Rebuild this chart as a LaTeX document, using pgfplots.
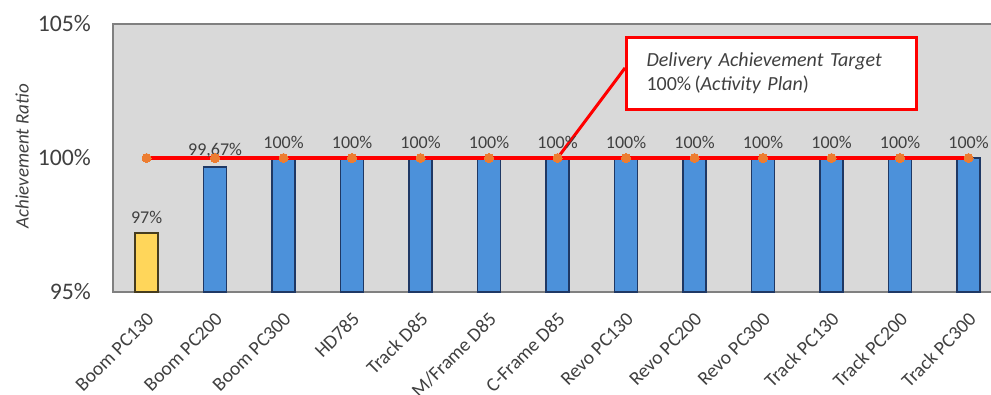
\documentclass[border=0pt]{standalone}
\usepackage{fontspec}
\setmainfont{Carlito}
\usepackage{pgfplots}
\pgfplotsset{compat=1.18}
\usepackage{pgfplotstable}
\definecolor{barblue}{RGB}{76,145,218}
\definecolor{baredge}{RGB}{31,56,100}
\definecolor{baryellow}{RGB}{255,214,90}
\definecolor{yedge}{RGB}{70,60,30}
\definecolor{bggray}{RGB}{217,217,217}
\definecolor{framegray}{RGB}{128,128,128}
\definecolor{txtgray}{RGB}{64,64,64}
\definecolor{mkorange}{RGB}{237,125,49}
\pgfplotstableread{
x y lab
1 99.67 99,67
2 100 100
3 100 100
4 100 100
5 100 100
6 100 100
7 100 100
8 100 100
9 100 100
10 100 100
11 100 100
12 100 100
}\bluebars
\pgfplotstableread{
x y lab
0 97.2 97
}\yellowbars
\pgfplotstableread{
x y
0 100
1 100
2 100
3 100
4 100
5 100
6 100
7 100
8 100
9 100
10 100
11 100
12 100
}\target
\begin{document}
\begin{tikzpicture}
\begin{axis}[
  at={(0,0)}, anchor=south west,
  scale only axis, width=880pt, height=268pt,
  xmin=-0.49, xmax=12.357, ymin=95, ymax=105,
  axis background/.style={fill=bggray},
  axis line style={draw=framegray, line width=2pt},
  major tick length=0pt,
  ytick={95,100,105}, yticklabels={95\%,100\%,105\%},
  yticklabel style={anchor=east, inner sep=0pt, xshift=-22pt, text=txtgray, font=\fontsize{23.7}{28}\selectfont},
  xtick={0,...,12},
  xticklabels={Boom PC130,Boom PC200,Boom PC300,HD785,Track D85,M/Frame D85,C-Frame D85,Revo PC130,Revo PC200,Revo PC300,Track PC130,Track PC200,Track PC300},
  xticklabel style={xshift=4pt, yshift=-24pt, rotate=45, anchor=east, inner sep=0pt, text=txtgray, font=\fontsize{19.5}{22}\selectfont},
  ylabel={\itshape Achievement Ratio},
  ylabel style={at={(axis description cs:-0.1034,0.507)}, anchor=center, text=txtgray, font=\fontsize{19}{22}\selectfont},
  bar width=23pt, bar shift=0pt,
  clip=true,
]
\addplot[ybar, fill=baryellow, draw=yedge, line width=1.5pt, point meta=explicit symbolic,
  nodes near coords={\pgfplotspointmeta\%},
  every node near coord/.append style={text=txtgray, font=\fontsize{18}{21}\selectfont, yshift=5pt}] table[x=x, y=y, meta=lab] {\yellowbars};
\addplot[ybar, fill=barblue, draw=baredge, line width=1.5pt, point meta=explicit symbolic,
  nodes near coords={\pgfplotspointmeta\%},
  every node near coord/.append style={text=txtgray, font=\fontsize{18}{21}\selectfont, yshift=5pt}] table[x=x, y=y, meta=lab] {\bluebars};
\addplot[red, line width=4pt, mark=*, mark size=4.5pt, mark options={fill=mkorange, draw=mkorange, line width=0pt, solid}] table[x=x, y=y] {\target};
\draw[red, line width=3pt] (axis cs:6,100) -- (axis cs:6.985,103.36);
\node[draw=red, line width=3pt, fill=white, anchor=north west, minimum width=290pt, minimum height=72pt, text width=250pt, inner xsep=20pt, align=left, text=txtgray, font=\fontsize{20}{24}\selectfont] at (axis cs:6.985,104.55) {\itshape Delivery Achievement Target\\\upshape 100\%\,(\itshape Activity Plan\upshape)};
\end{axis}
\pgfresetboundingbox
\path (-113pt,-102pt) rectangle (878pt,292pt);
\end{tikzpicture}
\end{document}
